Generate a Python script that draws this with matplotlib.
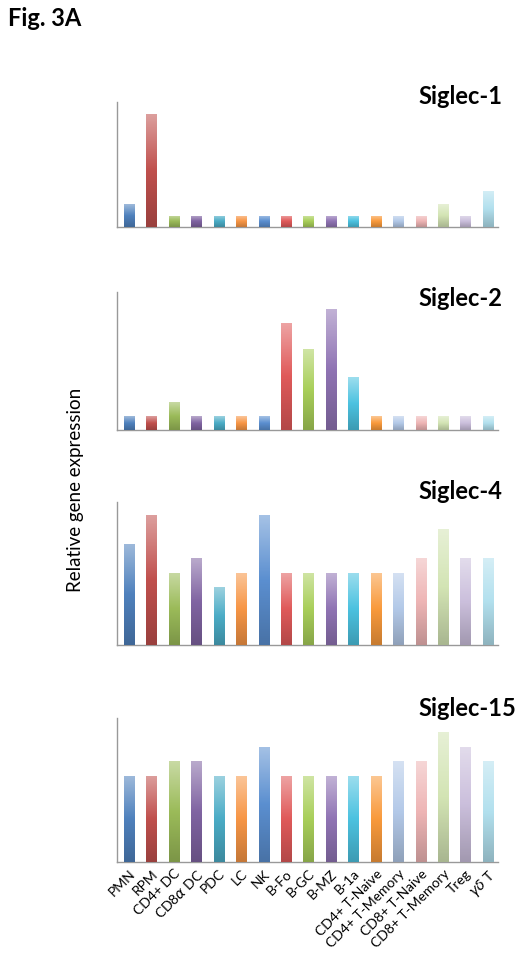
import matplotlib
matplotlib.use("Agg")
import matplotlib.pyplot as plt
import numpy as np
from matplotlib.colors import LinearSegmentedColormap, to_rgb

plt.rcParams['font.family'] = ['Lato', 'DejaVu Sans']

cells = ['PMN', 'RPM', 'CD4+ DC', r'CD8$\alpha$ DC', 'PDC', 'LC', 'NK', 'B-Fo', 'B-GC',
         'B-MZ', 'B-1a', 'CD4+ T-Naive', 'CD4+ T-Memory', 'CD8+ T-Naive',
         'CD8+ T-Memory', 'Treg', r'$\gamma\delta$ T']

colors = ['#4f81bd', '#c0504d', '#9bbb59', '#8064a2', '#4bacc6', '#f79646',
          '#5b8fd0', '#e05a5a', '#a9cf5a', '#9074b4', '#4cc2e0', '#f99a3c',
          '#b3c9e8', '#eeb5b5', '#d3e4b4', '#cbbfdc', '#b2e0ee']

siglec1 = [2, 10, 1, 1, 1, 1, 1, 1, 1, 1, 1, 1, 1, 1, 2, 1, 3.2]
siglec2 = [1, 1, 2, 1, 1, 1, 1, 7.7, 5.8, 8.7, 3.8, 1, 1, 1, 1, 1, 1]
siglec4 = [7, 9, 5, 6, 4, 5, 9, 5, 5, 5, 5, 5, 5, 6, 8, 6, 6]
siglec15 = [6, 6, 7, 7, 6, 6, 8, 6, 6, 6, 6, 6, 7, 7, 9, 8, 7]

panels = [('Siglec-1', siglec1, 11.1), ('Siglec-2', siglec2, 9.9),
          ('Siglec-4', siglec4, 9.9), ('Siglec-15', siglec15, 10.0)]

# axes boxes in figure fraction (left, bottom, width, height)
boxes = [(0.2233, 0.7633, 0.727, 0.1303),
         (0.2233, 0.5516, 0.727, 0.1439),
         (0.2233, 0.3274, 0.727, 0.1491),
         (0.2233, 0.1011, 0.727, 0.1502)]
title_y = [96, 298, 491, 709]

fig = plt.figure(figsize=(5.24, 9.59), dpi=100)
x = np.arange(len(cells))
grad = np.linspace(0, 1, 100).reshape(-1, 1)

for (name, vals, ymax), box, ty in zip(panels, boxes, title_y):
    ax = fig.add_axes(box)
    bars = ax.bar(x, vals, width=0.45, color=colors, zorder=2)
    # excel-like gradient fill: darker at the base, lighter at the top
    for b, c in zip(bars, colors):
        base = np.array(to_rgb(c))
        dark = base * 0.8
        light = base + (1 - base) * 0.45
        cmap = LinearSegmentedColormap.from_list('g', [dark, base, light])
        x0, y0 = b.get_x(), b.get_y()
        im = ax.imshow(grad, extent=[x0, x0 + b.get_width(), y0, y0 + b.get_height()],
                       origin='lower', aspect='auto', cmap=cmap, zorder=3)
        im.set_clip_path(b)
    ax.set_xlim(-0.54, 16.45)
    ax.set_ylim(0, ymax)
    for s in ['top', 'right']:
        ax.spines[s].set_visible(False)
    for s in ['left', 'bottom']:
        ax.spines[s].set_color('#999999')
        ax.spines[s].set_linewidth(1.0)
    ax.set_yticks([])
    ax.tick_params(axis='x', length=0, pad=4)
    if name == 'Siglec-15':
        ax.set_xticks(x)
        ax.set_xticklabels(cells, rotation=45, ha='right', rotation_mode='anchor',
                           fontsize=10)
    else:
        ax.set_xticks([])
    fig.text(418 / 524, 1 - ty / 959, name, ha='left', va='center',
             fontsize=17, fontweight='bold')

fig.text(8 / 524, 1 - 18 / 959, 'Fig. 3A', ha='left', va='center',
         fontsize=17, fontweight='bold')
fig.text(75 / 524, 1 - 490 / 959, 'Relative gene expression', rotation=90,
         ha='center', va='center', fontsize=13.5)

fig.savefig('out.png', dpi=100)
